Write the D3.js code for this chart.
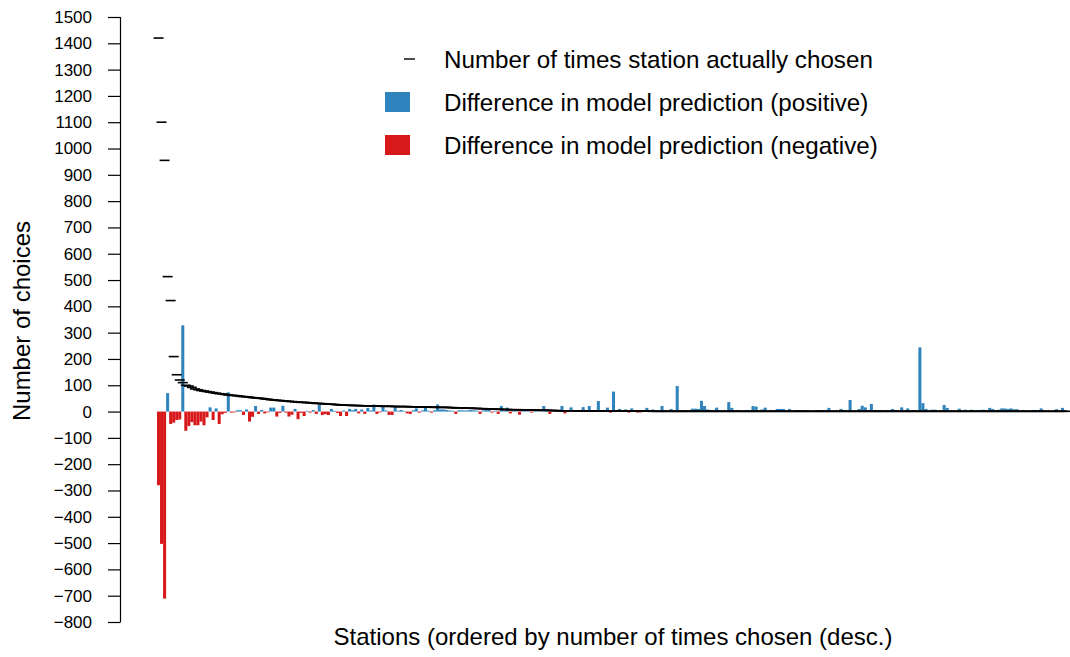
<!DOCTYPE html>
<html>
<head>
<meta charset="utf-8">
<script src="https://cdn.jsdelivr.net/npm/d3@7/dist/d3.min.js"></script>
<style>
  html, body { margin: 0; padding: 0; background: #ffffff; }
  svg { display: block; font-family: "Liberation Sans", Arial, Helvetica, sans-serif; }
</style>
</head>
<body>
<svg id="chart" width="1070" height="657"></svg>
<script>
// Number of times each station was actually chosen (stations ordered desc.)
const chosen = [
  1420,1100,955,513,422,209,140,120,110,
  100,97,92,86,83,80,78,76,74,72,70,
  68,67,65,63,62,61,60,58,57,56,
  55,53,52,51,50,48,47,45,44,43,
  42,41,40,39,38,37,36,35,35,34,
  33,32,31,31,30,29,28,28,27,26,
  25,25,24,24,23,23,23,22,22,22,
  22,22,21,21,20,20,20,20,19,19,
  19,19,19,18,18,18,18,17,17,17,
  17,16,16,16,16,16,15,15,14,14,
  14,13,13,13,12,12,11,11,10,10,
  10,9,9,8,8,8,7,7,7,7,
  6,6,6,6,6,5,5,5,5,4,
  4,4,3,3,3,3,3,3,3,3,
  2,2,2,2,2,2,2,2,2,2,
  2,2,2,2,2,2,2,2,2,2,
  2,2,2,
  1,1,1,1,1,1,1,
  1,1,1,1,1,1,1,1,1,1,
  1,1,1,1,1,1,1,1,1,1,
  1,1,1,1,1,1,1,1,1,1,
  1,1,1,1,1,1,1,1,1,1,
  1,1,1,1,1,1,1,1,1,1,
  1,1,1,1,1,1,1,1,1,1,
  1,1,1,1,1,1,1,1,1,1,
  1,1,1,1,1,1,1,1,1,1,
  1,1,1,1,1,1,1,1,1,1,
  1,1,1,1,1,1,1,1,1,1,
  1,1,1,1,1,1,1,1,1,1,
  1,1,1,1,1,1,1,1,1,1,
  1,1,1,1,1,1,1,1,1,1
];

// Difference in model prediction (predicted - actual)
const difference = [
  -280,-503,-711,70,-47,-42,-32,-30,328,-73,
  -55,-40,-52,-52,-38,-52,-22,16,-32,12,
  -47,-10,-5,73,-4,-3,5,5,-13,8,
  -38,-20,21,-9,6,-7,-3,15,15,-19,
  -5,22,-4,-19,-12,10,-29,-5,-17,3,
  -4,6,-9,27,-13,-10,-13,10,3,-5,
  -17,4,-17,10,5,10,-7,8,-9,14,
  4,27,-9,-3,19,4,-13,-13,19,3,
  6,2,-7,-9,5,12,-4,4,15,3,
  -4,5,27,8,8,6,4,3,-9,5,
  5,4,5,6,5,3,-9,4,8,6,
  -4,3,-9,21,4,15,-7,3,4,-12,
  3,4,3,-4,4,3,3,21,3,-9,
  3,4,2,21,-7,3,16,3,2,4,
  17,4,21,3,5,40,4,3,15,-4,
  76,4,10,3,8,-4,12,3,-4,-3,
  2,14,3,8,3,4,21,6,3,10,
  2,97,5,5,4,5,11,11,10,41,
  21,8,6,4,15,5,3,2,36,14,
  4,6,2,3,6,3,21,19,4,8,
  15,2,6,0,10,10,10,3,10,2,
  6,6,5,5,5,2,0,5,5,6,
  6,14,3,0,2,10,6,4,44,2,
  0,10,22,16,4,29,6,6,5,2,
  6,6,10,6,3,16,4,12,3,6,
  3,244,32,10,2,7,7,2,5,25,
  14,0,0,2,11,3,7,2,7,3,
  6,5,7,5,14,10,3,7,12,12,
  10,12,9,9,2,6,0,0,6,6,
  6,12,5,0,0,2,9,3,14,5
];

const yTickValues = [-800,-700,-600,-500,-400,-300,-200,-100,0,100,200,300,400,500,600,700,800,900,1000,1100,1200,1300,1400,1500];

const legendLabels = [
  "Number of times station actually chosen",
  "Difference in model prediction (positive)",
  "Difference in model prediction (negative)"
];

const xTitle = "Stations (ordered by number of times chosen (desc.)";
const yTitle = "Number of choices";

const BLUE = "#2f84bd";
const RED = "#d7191c";

const stations = d3.range(chosen.length);

const svg = d3.select("#chart");

const x = d3.scaleBand().domain(stations).range([157, 1067]).paddingInner(0);
const y = d3.scaleLinear().domain([-800, 1500]).range([622, 17]);

// Bars
svg.append("g").selectAll("rect")
  .data(stations)
  .join("rect")
  .attr("x", i => x(i))
  .attr("width", x.bandwidth())
  .attr("y", i => y(Math.max(0, difference[i])))
  .attr("height", i => Math.abs(y(difference[i]) - y(0)))
  .attr("fill", i => difference[i] >= 0 ? BLUE : RED);

// Actual choices as dashes
svg.append("g").selectAll("line")
  .data(stations)
  .join("line")
  .attr("x1", i => x(i) + x.bandwidth() / 2 - 5)
  .attr("x2", i => x(i) + x.bandwidth() / 2 + 5)
  .attr("y1", i => y(chosen[i]))
  .attr("y2", i => y(chosen[i]))
  .attr("stroke", "#000")
  .attr("stroke-width", 1.6);

// Y axis
const yAxis = d3.axisLeft(y).tickValues(yTickValues).tickSize(12.5).tickPadding(16).tickFormat(d3.format("d"));
const gy = svg.append("g").attr("transform", "translate(120.5,0)").call(yAxis);
gy.select(".domain").attr("stroke", "#000").attr("stroke-width", 1.2)
  .attr("d", `M0,${y(1500)}V${y(-800)}`);
gy.selectAll(".tick line").attr("stroke", "#000").attr("stroke-width", 1.2);
gy.selectAll(".tick text").attr("font-size", 17).attr("fill", "#000")
  .attr("font-family", "Liberation Sans, Arial, sans-serif");

// Axis titles
svg.append("text")
  .attr("x", 613).attr("y", 645)
  .attr("text-anchor", "middle")
  .attr("font-size", 24)
  .attr("fill", "#000")
  .text(xTitle);

svg.append("text")
  .attr("transform", "translate(30,321) rotate(-90)")
  .attr("text-anchor", "middle")
  .attr("font-size", 24)
  .attr("fill", "#000")
  .text(yTitle);

// Legend
const legendRows = [59, 102, 145];
const lg = svg.append("g");
lg.append("line")
  .attr("x1", 404).attr("x2", 415)
  .attr("y1", legendRows[0]).attr("y2", legendRows[0])
  .attr("stroke", "#000").attr("stroke-width", 1.4);
lg.append("rect").attr("x", 385).attr("y", legendRows[1] - 10).attr("width", 25).attr("height", 20).attr("fill", BLUE);
lg.append("rect").attr("x", 385).attr("y", legendRows[2] - 10).attr("width", 25).attr("height", 20).attr("fill", RED);
lg.selectAll("text")
  .data(legendLabels)
  .join("text")
  .attr("x", 444)
  .attr("y", (d, i) => legendRows[i])
  .attr("dy", "0.36em")
  .attr("font-size", 24.2)
  .attr("fill", "#000")
  .text(d => d);
</script>
</body>
</html>
